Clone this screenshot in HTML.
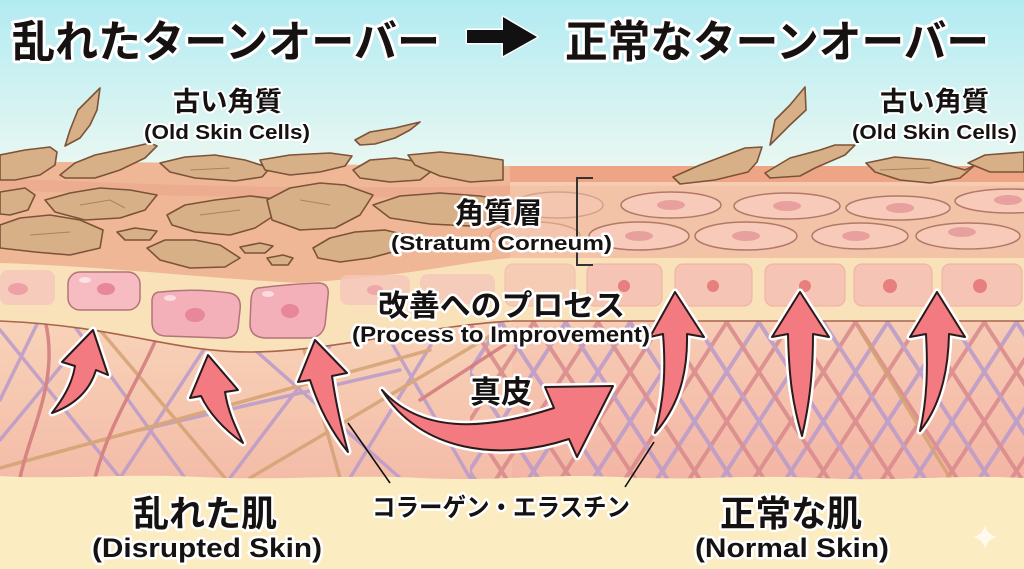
<!DOCTYPE html>
<html><head><meta charset="utf-8"><style>
html,body{margin:0;padding:0;width:1024px;height:569px;overflow:hidden;background:#fbecc2}
svg{display:block}
.jp{font-family:"Liberation Sans","Noto Sans CJK JP",sans-serif;font-weight:700;fill:#161212;stroke:#fff;stroke-linejoin:round;paint-order:stroke}
</style></head><body>
<svg width="1024" height="569" viewBox="0 0 1024 569" xmlns="http://www.w3.org/2000/svg">
<defs>
<linearGradient id="sky" x1="0" y1="0" x2="0" y2="1">
<stop offset="0" stop-color="#b2ebf2"/><stop offset="1" stop-color="#ecf8f2"/></linearGradient>
<linearGradient id="derm" x1="0" y1="0" x2="0" y2="1">
<stop offset="0" stop-color="#f8d3b8"/><stop offset="1" stop-color="#f4bca8"/></linearGradient>
<linearGradient id="dermR" x1="0" y1="0" x2="0" y2="1">
<stop offset="0" stop-color="#f7ccb4"/><stop offset="1" stop-color="#f3b4a4"/></linearGradient>
<pattern id="h1" width="54" height="10" patternUnits="userSpaceOnUse" patternTransform="rotate(33)">
<rect x="0" y="0" width="4" height="10" fill="#b99bcb"/><rect x="27" y="0" width="4" height="10" fill="#d8898b"/></pattern>
<pattern id="h2" width="54" height="10" patternUnits="userSpaceOnUse" patternTransform="rotate(-33)">
<rect x="0" y="0" width="4" height="10" fill="#d8898b"/><rect x="27" y="0" width="4" height="10" fill="#b99bcb"/></pattern>
<clipPath id="dclip"><path d="M0,321 C120,326 170,352 250,352 C330,352 430,325 512,321 L1024,321 L1024,478 C950,474 900,482 820,478 C740,474 700,481 620,477 C540,473 500,482 420,478 C340,474 280,481 200,477 C120,473 60,480 0,476 Z"/></clipPath>
<clipPath id="rclip"><rect x="470" y="300" width="560" height="200"/></clipPath>
</defs>

<!-- sky + cream -->
<rect width="1024" height="569" fill="#fbecc2"/>
<rect width="1024" height="175" fill="url(#sky)"/>

<!-- basal yellow band -->
<rect x="0" y="240" width="1024" height="130" fill="#f9e1b9"/>

<!-- dermis -->
<path d="M0,321 C120,326 170,352 250,352 C330,352 430,325 512,321 L1024,321 L1024,478 C950,474 900,482 820,478 C740,474 700,481 620,477 C540,473 500,482 420,478 C340,474 280,481 200,477 C120,473 60,480 0,476 Z" fill="url(#derm)"/>
<g clip-path="url(#dclip)">
<rect x="512" y="320" width="512" height="170" fill="url(#dermR)"/>
<g clip-path="url(#rclip)" opacity="0.85">
<rect x="470" y="300" width="560" height="200" fill="url(#h1)"/>
<rect x="470" y="300" width="560" height="200" fill="url(#h2)"/>
</g>
<g fill="none" stroke-width="3.5" stroke-linecap="round" opacity="0.85">
<path d="M0,330 L120,478" stroke="#b99bcb"/>
<path d="M40,318 L0,400" stroke="#b99bcb"/>
<path d="M70,320 L185,478" stroke="#b99bcb"/>
<path d="M210,340 L120,478" stroke="#b99bcb"/>
<path d="M255,350 L400,478" stroke="#b99bcb"/>
<path d="M330,346 L230,478" stroke="#b99bcb"/>
<path d="M390,340 L470,478" stroke="#b99bcb"/>
<path d="M0,440 L95,325" stroke="#b99bcb"/>
<path d="M140,430 L400,370" stroke="#b99bcb"/>
<path d="M440,330 L350,478" stroke="#b99bcb"/>
<path d="M0,468 L430,350" stroke="#d4a272"/>
<path d="M100,330 L225,478" stroke="#d4a272"/>
<path d="M250,478 L500,330" stroke="#d4a272"/>
<path d="M300,335 L340,478" stroke="#d4a272"/>
<path d="M45,320 C60,380 30,430 20,478" stroke="#d07a7c"/>
<path d="M160,330 C140,380 110,420 95,478" stroke="#d07a7c"/>
<path d="M420,400 L512,340" stroke="#d07a7c"/>
<path d="M860,330 L950,478" stroke="#d4a272"/>
</g>
</g>
<path d="M0,321 C120,326 170,352 250,352 C330,352 430,325 512,321 L1024,321" fill="none" stroke="#a8644e" stroke-width="1.6"/>

<!-- right stratum -->
<rect x="505" y="166" width="519" height="92" fill="#f3c3a7"/>
<rect x="505" y="166" width="519" height="16" fill="#eea585"/>
<rect x="505" y="182" width="519" height="4" fill="#f6cbb0"/>
<!-- left stratum -->
<path d="M0,163 C100,160 300,165 510,166 L510,258 C460,262 420,275 300,283 C200,278 100,266 0,263 Z" fill="#f0b796"/>
<path d="M0,178 C150,185 300,190 510,186 L510,196 C300,200 150,196 0,190 Z" fill="#e8a58a" opacity="0.6"/>

<!-- right elongated cells -->
<g stroke="#b27868" stroke-width="1.5" fill="#f7cab9">
<ellipse cx="558" cy="205" rx="45" ry="13" opacity="0.45"/>
<ellipse cx="671" cy="205" rx="50" ry="13"/>
<ellipse cx="787" cy="206" rx="53" ry="13"/>
<ellipse cx="898" cy="208" rx="52" ry="12"/>
<ellipse cx="1010" cy="201" rx="55" ry="12"/>
<ellipse cx="535" cy="236" rx="45" ry="14" opacity="0.45"/>
<ellipse cx="639" cy="236" rx="50" ry="14"/>
<ellipse cx="746" cy="236" rx="51" ry="14"/>
<ellipse cx="860" cy="236" rx="48" ry="13"/>
<ellipse cx="968" cy="236" rx="52" ry="13"/>
</g>
<g fill="#e8a09e">
<ellipse cx="671" cy="205" rx="14" ry="5"/><ellipse cx="787" cy="206" rx="14" ry="5"/>
<ellipse cx="900" cy="208" rx="14" ry="5"/><ellipse cx="1008" cy="200" rx="14" ry="5"/>
<ellipse cx="639" cy="236" rx="14" ry="5"/><ellipse cx="746" cy="236" rx="14" ry="5"/>
<ellipse cx="856" cy="236" rx="14" ry="5"/><ellipse cx="962" cy="232" rx="14" ry="5"/>
</g>

<!-- right basal cells -->
<g fill="#f6c4b4" stroke="#efb0a2" stroke-width="1">
<rect x="505" y="264" width="70" height="42" rx="8" opacity="0.7"/>
<rect x="587" y="264" width="75" height="42" rx="8"/>
<rect x="675" y="264" width="77" height="42" rx="8"/>
<rect x="765" y="264" width="80" height="42" rx="8"/>
<rect x="854" y="264" width="78" height="42" rx="8"/>
<rect x="942" y="264" width="80" height="42" rx="8"/>
</g>
<g fill="#e77f7f">
<circle cx="624" cy="286" r="6"/><circle cx="713" cy="286" r="6"/><circle cx="805" cy="286" r="6"/>
<circle cx="890" cy="286" r="7"/><circle cx="980" cy="286" r="7"/>
</g>

<!-- left basal cells -->
<g fill="#f5c6bb" opacity="0.8">
<rect x="0" y="270" width="55" height="35" rx="8"/>
<rect x="340" y="275" width="70" height="30" rx="8"/>
<rect x="420" y="274" width="75" height="30" rx="8"/>
</g>
<g stroke="#b27478" stroke-width="1.5" fill="#f6bcc1">
<rect x="68" y="272" width="72" height="38" rx="12"/>
<path d="M160,292 Q195,288 230,293 Q242,296 240,310 L238,328 Q236,339 222,338 L165,336 Q152,335 152,322 L152,300 Q153,292 160,292 Z" fill="#f4b0b9"/>
<path d="M258,288 Q290,284 318,283 Q330,283 328,296 L325,325 Q322,338 308,338 L265,338 Q250,337 250,324 L251,300 Q252,289 258,288 Z" fill="#f4b0b9"/>
</g>
<g fill="#e8869a">
<ellipse cx="18" cy="289" rx="10" ry="6" opacity="0.6"/><ellipse cx="106" cy="289" rx="9" ry="6"/>
<ellipse cx="195" cy="315" rx="10" ry="7"/><ellipse cx="290" cy="311" rx="9" ry="7"/>
<ellipse cx="375" cy="290" rx="8" ry="5" opacity="0.5"/>
</g>
<g fill="#fff" opacity="0.55"><ellipse cx="85" cy="280" rx="6" ry="3"/><ellipse cx="170" cy="298" rx="6" ry="3"/><ellipse cx="268" cy="294" rx="6" ry="3"/></g>

<!-- flakes -->
<g fill="#d8b088" stroke="#7c5338" stroke-width="1.6" stroke-linejoin="round">
<polygon points="100,88 97,110 90,125 80,138 65,146 70,130 78,110"/>
<polygon points="355,140 370,132 395,128 420,122 410,130 395,138 375,144 360,145"/>
<polygon points="0,155 25,150 50,147 57,152 55,165 40,175 15,180 0,180"/>
<polygon points="60,175 75,163 95,155 128,148 150,143 157,146 145,158 120,170 95,178 65,178"/>
<polygon points="160,163 185,157 215,155 245,160 270,168 262,177 235,181 195,178 170,172"/>
<polygon points="260,160 290,155 330,153 352,156 345,166 320,172 290,175 265,170"/>
<polygon points="353,170 370,160 395,158 420,162 433,170 420,180 390,182 360,178"/>
<polygon points="408,155 440,152 470,155 503,160 503,180 470,182 440,176 415,165"/>
<polygon points="0,192 25,188 35,195 28,210 10,215 0,214"/>
<polygon points="45,200 70,193 100,188 130,190 157,195 145,210 120,218 85,220 55,212"/>
<polygon points="167,215 185,205 215,200 250,196 283,200 275,215 255,228 230,235 195,232 172,225"/>
<polygon points="267,200 290,188 320,183 345,185 373,195 360,215 335,228 300,230 272,220"/>
<polygon points="373,205 400,196 440,193 480,196 503,200 503,222 470,226 430,224 390,218"/>
<polygon points="0,225 20,218 50,215 80,220 103,230 100,248 70,255 35,252 0,248"/>
<polygon points="117,232 135,228 157,231 150,240 125,240"/>
<polygon points="147,248 165,240 195,240 220,245 240,258 225,267 190,268 160,260"/>
<polygon points="240,247 260,243 273,246 265,253 245,253"/>
<polygon points="267,258 283,255 293,258 288,265 272,265"/>
<polygon points="313,248 330,238 355,232 385,230 410,236 400,250 370,258 340,262 318,258"/>
<polygon points="805,87 806,110 790,125 770,145 775,120 790,105"/>
<polygon points="673,177 700,165 745,148 762,147 757,162 748,172 715,180 680,184"/>
<polygon points="765,173 790,158 820,150 835,145 855,145 845,155 815,168 800,176 770,178"/>
<polygon points="866,163 895,157 930,160 965,170 975,165 960,178 930,183 900,180 875,172"/>
<polygon points="968,163 985,155 1024,152 1024,172 990,172"/>
</g>
<g fill="none" stroke="#9a6e4e" stroke-width="1" opacity="0.7">
<path d="M80,205 L110,200 L125,208"/><path d="M200,215 L240,210"/><path d="M300,200 L330,205"/><path d="M30,235 L70,232"/><path d="M190,170 L230,168"/><path d="M880,170 L930,168"/>
</g>

<!-- bracket -->
<path d="M593,178 L577,178 L577,265 L593,265" fill="none" stroke="#333" stroke-width="2"/>

<!-- leader lines -->
<path d="M348,423 L390,483" stroke="#111" stroke-width="1.6"/>
<path d="M654,442 L625,487" stroke="#111" stroke-width="1.6"/>

<!-- arrows -->
<g stroke-linejoin="round">
<g fill="none" stroke="#fff" stroke-width="7">
<path d="M93,330 L108,375 L96,370 C90,390 75,405 52,413 C62,400 72,385 75,366 L62,362 Z"/>
<path d="M208,355 L238,390 L225,392 C228,412 236,428 243,443 C225,430 210,415 201,396 L190,398 Z"/>
<path d="M315,340 L347,373 L332,376 C336,405 342,430 348,452 C330,430 318,405 310,380 L298,382 Z"/>
<path d="M382,390 C420,432 480,432 554,408 L545,387 L613,386 L577,457 L569,439 C500,462 420,452 382,390 Z"/>
<path d="M675,292 L704,337 L687,334 C688,380 675,410 655,433 C664,400 666,370 663,334 L650,337 Z"/>
<path d="M800,292 L829,337 L813,334 C813,380 808,410 802,436 C793,405 789,380 788,334 L772,337 Z"/>
<path d="M937,292 L965,337 L949,334 C948,380 937,410 920,431 C927,400 928,370 926,334 L910,337 Z"/>
</g>
<g fill="#f37a80" stroke="#2a1a1a" stroke-width="2">
<path d="M93,330 L108,375 L96,370 C90,390 75,405 52,413 C62,400 72,385 75,366 L62,362 Z"/>
<path d="M208,355 L238,390 L225,392 C228,412 236,428 243,443 C225,430 210,415 201,396 L190,398 Z"/>
<path d="M315,340 L347,373 L332,376 C336,405 342,430 348,452 C330,430 318,405 310,380 L298,382 Z"/>
<path d="M382,390 C420,432 480,432 554,408 L545,387 L613,386 L577,457 L569,439 C500,462 420,452 382,390 Z"/>
<path d="M675,292 L704,337 L687,334 C688,380 675,410 655,433 C664,400 666,370 663,334 L650,337 Z"/>
<path d="M800,292 L829,337 L813,334 C813,380 808,410 802,436 C793,405 789,380 788,334 L772,337 Z"/>
<path d="M937,292 L965,337 L949,334 C948,380 937,410 920,431 C927,400 928,370 926,334 L910,337 Z"/>
</g>
</g>

<!-- title arrow -->
<path d="M467,30 L503,30 L503,17 L537,37 L503,56 L503,43 L467,43 Z" fill="#111" stroke="#fff" stroke-width="3" paint-order="stroke" stroke-linejoin="round"/>

<!-- sparkle -->
<path d="M985,525 Q987,535 997,537 Q987,539 985,549 Q983,539 973,537 Q983,535 985,525 Z" fill="#fff" opacity="0.75"/>

<!-- text -->
<text class="jp" x="12" y="57" font-size="44" stroke-width="6" textLength="428" lengthAdjust="spacingAndGlyphs" font-weight="900">乱れたターンオーバー</text>
<text class="jp" x="565" y="57" font-size="44" stroke-width="6" textLength="424" lengthAdjust="spacingAndGlyphs" font-weight="900">正常なターンオーバー</text>

<text class="jp" x="173" y="111" font-size="27" stroke-width="4" textLength="109" lengthAdjust="spacingAndGlyphs">古い角質</text>
<text class="jp" x="144" y="139" font-size="20" stroke-width="4" textLength="166" lengthAdjust="spacingAndGlyphs" font-weight="400">(Old Skin Cells)</text>
<text class="jp" x="880" y="111" font-size="27" stroke-width="4" textLength="109" lengthAdjust="spacingAndGlyphs">古い角質</text>
<text class="jp" x="852" y="139" font-size="20" stroke-width="4" textLength="165" lengthAdjust="spacingAndGlyphs" font-weight="400">(Old Skin Cells)</text>

<text class="jp" x="455" y="223" font-size="29" stroke-width="5" textLength="87" lengthAdjust="spacingAndGlyphs">角質層</text>
<text class="jp" x="391" y="250" font-size="20" stroke-width="5" textLength="221" lengthAdjust="spacingAndGlyphs">(Stratum Corneum)</text>

<text class="jp" x="378" y="316" font-size="30" stroke-width="5" textLength="247" lengthAdjust="spacingAndGlyphs">改善へのプロセス</text>
<text class="jp" x="352" y="342" font-size="22" stroke-width="5" textLength="298" lengthAdjust="spacingAndGlyphs">(Process to Improvement)</text>

<text class="jp" x="470" y="403" font-size="31" stroke-width="5" textLength="62" lengthAdjust="spacingAndGlyphs">真皮</text>

<text class="jp" x="372" y="516" font-size="25" stroke-width="5" textLength="258" lengthAdjust="spacingAndGlyphs" font-weight="400">コラーゲン・エラスチン</text>

<text class="jp" x="133" y="526" font-size="36" stroke-width="5" textLength="144" lengthAdjust="spacingAndGlyphs">乱れた肌</text>
<text class="jp" x="92" y="557" font-size="27" stroke-width="5" textLength="230" lengthAdjust="spacingAndGlyphs">(Disrupted Skin)</text>
<text class="jp" x="720" y="526" font-size="36" stroke-width="5" textLength="142" lengthAdjust="spacingAndGlyphs">正常な肌</text>
<text class="jp" x="695" y="557" font-size="27" stroke-width="5" textLength="194" lengthAdjust="spacingAndGlyphs">(Normal Skin)</text>
</svg>
</body></html>
